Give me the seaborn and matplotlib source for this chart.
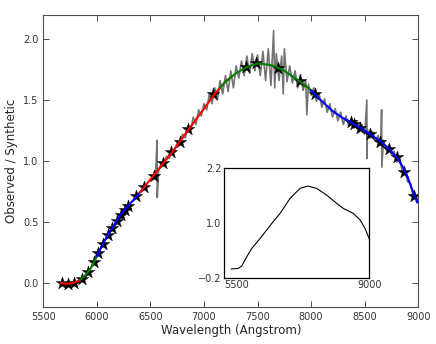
import numpy as np
import matplotlib
matplotlib.use("Agg")
import matplotlib.pyplot as plt
import seaborn as sns

# smooth fit (continuum ratio)
fit_wave = [5660, 5700, 5750, 5800, 5850, 5900, 5950, 6000, 6050, 6100,
            6150, 6200, 6250, 6300, 6350, 6400, 6450, 6500, 6550, 6600,
            6650, 6700, 6750, 6800, 6850, 6900, 6950, 7000, 7050, 7100,
            7150, 7200, 7250, 7300, 7350, 7400, 7450, 7500, 7550, 7600,
            7650, 7700, 7750, 7800, 7850, 7900, 7950, 8000, 8050, 8100,
            8150, 8200, 8250, 8300, 8350, 8400, 8450, 8500, 8550, 8600,
            8650, 8700, 8750, 8800, 8850, 8900, 8950, 8990]
fit_ratio = [0.00, -0.005, -0.005, 0.005, 0.03, 0.07, 0.13, 0.22, 0.31, 0.39,
             0.46, 0.53, 0.59, 0.64, 0.69, 0.74, 0.795, 0.85, 0.905, 0.96,
             1.015, 1.07, 1.13, 1.19, 1.25, 1.31, 1.37, 1.43, 1.49, 1.55,
             1.60, 1.65, 1.685, 1.72, 1.745, 1.77, 1.785, 1.80, 1.795, 1.79,
             1.78, 1.76, 1.74, 1.71, 1.68, 1.65, 1.615, 1.58, 1.535, 1.49,
             1.45, 1.41, 1.38, 1.35, 1.33, 1.30, 1.28, 1.25, 1.22, 1.19,
             1.16, 1.12, 1.075, 1.03, 0.96, 0.87, 0.75, 0.66]

# wavelength ranges of the piecewise fits
seg_start = [5660, 5850, 6000, 6400, 7150, 8000]
seg_end = [5850, 6000, 6450, 7250, 8050, 8990]
seg_colors = ["red", "green", "blue", "red", "green", "blue"]

# observed / synthetic spectrum (noisy)
obs_wave = [6525, 6550, 6562, 6564, 6575, 6600, 6625, 6650, 6675, 6700,
            6725, 6750, 6775, 6800, 6825, 6850, 6875, 6900, 6925, 6950,
            6975, 7000, 7025, 7050, 7075, 7100, 7125, 7150, 7175, 7200,
            7225, 7250, 7275, 7300, 7325, 7350, 7375, 7400, 7425, 7450,
            7475, 7500, 7525, 7550, 7575, 7600, 7625, 7650, 7660, 7675,
            7700, 7725, 7740, 7750, 7775, 7800, 7825, 7850, 7875, 7900,
            7925, 7950, 7960, 7975, 8000, 8025, 8050, 8075, 8100, 8125,
            8150, 8175, 8200, 8225, 8250, 8275, 8300, 8325, 8350, 8375,
            8400, 8425, 8450, 8475, 8500, 8520, 8522, 8525, 8550, 8575,
            8600, 8625, 8650, 8658, 8660, 8675, 8700, 8725, 8750, 8775,
            8800, 8825, 8850, 8875, 8900, 8925, 8950, 8975]
obs_ratio = [0.86, 0.92, 1.17, 0.70, 0.91, 0.98, 0.97, 1.04, 1.02, 1.09,
             1.08, 1.15, 1.13, 1.22, 1.19, 1.28, 1.25, 1.36, 1.30, 1.42,
             1.37, 1.47, 1.42, 1.55, 1.47, 1.60, 1.50, 1.66, 1.55, 1.70,
             1.57, 1.74, 1.60, 1.78, 1.68, 1.82, 1.70, 1.86, 1.72, 1.88,
             1.74, 1.87, 1.70, 1.90, 1.66, 1.92, 1.62, 2.07, 1.60, 1.88,
             1.66, 1.86, 1.55, 1.92, 1.65, 1.78, 1.64, 1.74, 1.60, 1.71,
             1.58, 1.66, 1.38, 1.63, 1.54, 1.60, 1.49, 1.55, 1.44, 1.51,
             1.40, 1.47, 1.36, 1.43, 1.33, 1.40, 1.30, 1.37, 1.29, 1.35,
             1.27, 1.33, 1.24, 1.30, 1.22, 1.50, 1.02, 1.26, 1.19, 1.24,
             1.16, 1.21, 1.13, 1.42, 0.95, 1.17, 1.09, 1.13, 1.05, 1.08,
             0.99, 1.02, 0.92, 0.93, 0.83, 0.82, 0.72, 0.69]

# points used for the fit (stars)
star_wave = [5670, 5730, 5790, 5860, 5920, 5975, 6015, 6060, 6100, 6145,
             6185, 6225, 6265, 6295, 6370, 6440, 6530, 6615, 6695, 6775,
             6855, 7085, 7390, 7490, 7695, 7895, 8040, 8370, 8400, 8460,
             8550, 8645, 8725, 8800, 8870, 8960]
star_ratio = [0.00, -0.005, 0.00, 0.035, 0.09, 0.17, 0.25, 0.32, 0.39, 0.45,
              0.51, 0.56, 0.60, 0.63, 0.71, 0.79, 0.88, 0.98, 1.07, 1.16,
              1.26, 1.55, 1.77, 1.80, 1.76, 1.66, 1.55, 1.32, 1.30, 1.27,
              1.22, 1.16, 1.10, 1.03, 0.91, 0.71]

# inset: the full fitted curve
inset_wave = [5662, 5838, 5920, 6041, 6161, 6362, 6644, 6844, 7086, 7327,
              7513, 7730, 7972, 8213, 8372, 8614, 8776, 8896, 9000]
inset_ratio = [-0.01, 0.006, 0.057, 0.26, 0.44, 0.66, 0.99, 1.21, 1.54, 1.76,
               1.81, 1.76, 1.61, 1.43, 1.32, 1.21, 1.07, 0.88, 0.65]

sns.set_style("ticks")
plt.rcParams["font.family"] = ["DejaVu Sans"]
plt.rcParams["xtick.direction"] = "in"
plt.rcParams["ytick.direction"] = "in"

fig = plt.figure(figsize=(4.36, 3.44), dpi=100)
ax = fig.add_axes([0.0993, 0.1064, 0.860, 0.851])

sns.lineplot(x=obs_wave, y=obs_ratio, sort=False, estimator=None, color="0.45",
             lw=1.2, ax=ax, zorder=1)
sns.scatterplot(x=star_wave, y=star_ratio, marker="*", s=90, color="black",
                edgecolor="black", linewidth=0.3, ax=ax, zorder=2)

fw = np.array(fit_wave)
fr = np.array(fit_ratio)
for lo, hi, c in zip(seg_start, seg_end, seg_colors):
    m = (fw >= lo) & (fw <= hi)
    sns.lineplot(x=fw[m], y=fr[m], sort=False, estimator=None, color=c,
                 lw=1.5, ax=ax, zorder=3)

ax.set_xlim(5500, 9000)
ax.set_ylim(-0.2, 2.2)
ax.set_xticks(np.arange(5500, 9001, 500))
ax.set_yticks([0.0, 0.5, 1.0, 1.5, 2.0])
ax.set_yticklabels(["0.0", "0.5", "1.0", "1.5", "2.0"])
ax.tick_params(labelsize=7, length=4, width=0.6, colors="0.2", top=True, right=True)
ax.set_xlabel("Wavelength (Angstrom)", fontsize=8.5, labelpad=1)
ax.set_ylabel("Observed / Synthetic", fontsize=8.5, labelpad=4)
for s in ax.spines.values():
    s.set_color("0.3")
    s.set_linewidth(0.8)

ins = fig.add_axes([0.5145, 0.1927, 0.3326, 0.318])
sns.lineplot(x=inset_wave, y=inset_ratio, sort=False, estimator=None,
             color="black", lw=0.8, ax=ins)
ins.set_xlim(5500, 9000)
ins.set_ylim(-0.2, 2.2)
ins.set_xticks([5500, 9000])
ins.set_yticks([-0.2, 1.0, 2.2])
ins.tick_params(labelsize=7, length=0, pad=2, colors="0.2")
ins.get_xticklabels()[0].set_horizontalalignment("left")
for s in ins.spines.values():
    s.set_color("black")
    s.set_linewidth(0.9)

fig.savefig("out.png", dpi=100)
